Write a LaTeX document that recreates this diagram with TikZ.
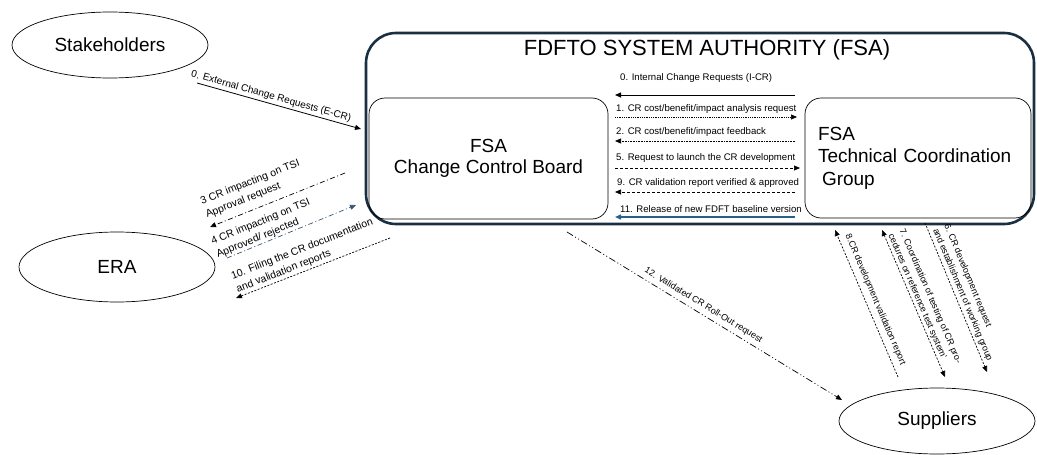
\documentclass[tikz,border=0pt]{standalone}
\usepackage{fontspec}
\setmainfont{Liberation Sans}
\usetikzlibrary{arrows.meta,shapes.geometric}
\definecolor{navy}{RGB}{26,48,66}
\definecolor{relblue}{RGB}{36,98,138}
\definecolor{grayblue}{RGB}{58,84,112}
\begin{document}
\begin{tikzpicture}[x=1pt,y=-1pt,
  oval/.style={ellipse, draw, line width=0.7pt, minimum width=196pt, minimum height=68pt, inner sep=0pt, font=\fontsize{19}{22}\selectfont},
  inbox/.style={draw, rounded corners=16pt, line width=0.7pt},
  hlbl/.style={font=\fontsize{9.6}{11}\selectfont, inner sep=0pt, anchor=west},
  dlbl/.style={font=\fontsize{10.5}{14}\selectfont, inner sep=1pt, sloped, align=left},
  slbl/.style={dlbl, font=\fontsize{9}{12}\selectfont},
  tip/.style={-{Triangle[length=6pt,width=5pt]}},
  conn/.style={line width=0.7pt},
  fdots/.style={dash pattern=on 0.9pt off 0.9pt},
  ffdots/.style={dash pattern=on 0.7pt off 0.9pt},
  fdash/.style={dash pattern=on 3pt off 2pt},
  sdash/.style={dash pattern=on 2pt off 1.5pt},
  dashdot/.style={dash pattern=on 5pt off 2.5pt on 1pt off 2.5pt},
  dashdotdot/.style={dash pattern=on 7pt off 2.5pt on 1pt off 2.5pt on 1pt off 2.5pt}
]
\useasboundingbox (0,0) rectangle (1037,455);

% ovals
\node[oval, minimum height=66pt] (stk) at (110,45) {Stakeholders};
\node[oval, minimum height=70pt] (era) at (117,267) {ERA};
\node[oval, minimum height=66pt] (sup) at (937,421) {Suppliers};

% FSA frame
\node[draw=navy, line width=2.6pt, rounded corners=30pt, minimum width=668pt, minimum height=191pt] (fsa) at (700,128.5) {};
\node[font=\fontsize{22}{25}\selectfont] (title) at (707,50) {FDFTO SYSTEM AUTHORITY (FSA)};

\node[inbox, font=\fontsize{19}{21.5}\selectfont, minimum width=239pt, minimum height=121pt, align=center] (ccb) at (488.5,158.5) {FSA\\Change Control Board};
\node[inbox, font=\fontsize{19}{22.5}\selectfont, minimum height=120pt, text width=200pt, inner xsep=13pt, align=left] (tcg) at (918,158) {FSA\\Technical Coordination\\\hspace*{4pt}Group};

% horizontal connector ends
\coordinate (r0) at (795,95);  \coordinate (l0) at (615,95);
\coordinate (l1) at (615,117); \coordinate (r1) at (797,117);
\coordinate (r2) at (795,141); \coordinate (l2) at (615,141);
\coordinate (l5) at (615,168); \coordinate (r5) at (800,168);
\coordinate (r9) at (795,192); \coordinate (l9) at (615,192);
\coordinate (r11) at (795,217); \coordinate (l11) at (615,217);

\draw[conn, line width=0.9pt, tip] (r0) -- (l0);
\draw[conn, fdots, tip] (l1) -- (r1);
\draw[conn, ffdots, tip] (r2) -- (l2);
\draw[conn, fdash, tip] (l5) -- (r5);
\draw[conn, fdash, tip] (r9) -- (l9);
\draw[conn, relblue, line width=1.4pt, tip] (r11) -- (l11);

\node[hlbl] (t0) at (620,78) {0. Internal Change Requests (I-CR)};
\node[hlbl] (t1) at (616,109) {1. CR cost/benefit/impact analysis request};
\node[hlbl] (t2) at (616,132) {2. CR cost/benefit/impact feedback};
\node[hlbl] (t5) at (616,158) {5. Request to launch the CR development};
\node[hlbl] (t9) at (617,183) {9. CR validation report verified \& approved};
\node[hlbl] (t11) at (620,209) {11. Release of new FDFT baseline version};

% Stakeholders
\coordinate (e0s) at (197,83); \coordinate (e0e) at (361,129);
\draw[conn, line width=0.8pt, tip] (e0s) -- node[dlbl, font=\fontsize{10}{12}\selectfont, pos=0.44, above=1pt] (te0) {0. External Change Requests (E-CR)} (e0e);

% ERA
\coordinate (a3s) at (345,173); \coordinate (a3e) at (210,227);
\draw[conn, dashdot, tip] (a3s) -- node[dlbl, pos=0.63, above=6pt] (t3) {3 CR impacting on TSI\\Approval request} (a3e);
\coordinate (a4s) at (227,258); \coordinate (a4e) at (356,205);
\draw[conn, grayblue, dashdot, tip] (a4s) -- node[dlbl, text=black, pos=0.32, above=0pt] (t4) {4 CR impacting on TSI\\Approved/ rejected} (a4e);
\coordinate (a10s) at (390,238); \coordinate (a10e) at (236,298);
\draw[conn, sdash, tip] (a10s) -- node[dlbl, pos=0.52, above=1pt] (t10) {10. Filing the CR documentation\\and validation reports} (a10e);

% Suppliers
\coordinate (a12s) at (567,232); \coordinate (a12e) at (842,400);
\draw[conn, dashdotdot, tip] (a12s) -- node[slbl, pos=0.48, above=3pt] (t12) {12. Validated CR Roll-Out request} (a12e);

\coordinate (a8s) at (898,377); \coordinate (a8e) at (835,230);
\draw[conn, sdash, tip] (a8s) -- node[slbl, pos=0.5, above=4pt] (t8) {8.CR development validation report} (a8e);
\coordinate (a7s) at (882,230); \coordinate (a7e) at (945,377);
\draw[conn, sdash, {Triangle[length=6pt,width=5pt]}-{Triangle[length=6pt,width=5pt]}] (a7s) -- node[slbl, pos=0.5, above=0.5pt] (t7) {7. Coordination of testing of CR pro-\\cedures on reference test system'} (a7e);
\coordinate (a6s) at (925,223); \coordinate (a6e) at (987,372);
\draw[conn, sdash, tip] (a6s) -- node[slbl, pos=0.5, above=1.5pt] (t6) {6. CR development request\\and establishment of working group} (a6e);
\end{tikzpicture}
\end{document}
